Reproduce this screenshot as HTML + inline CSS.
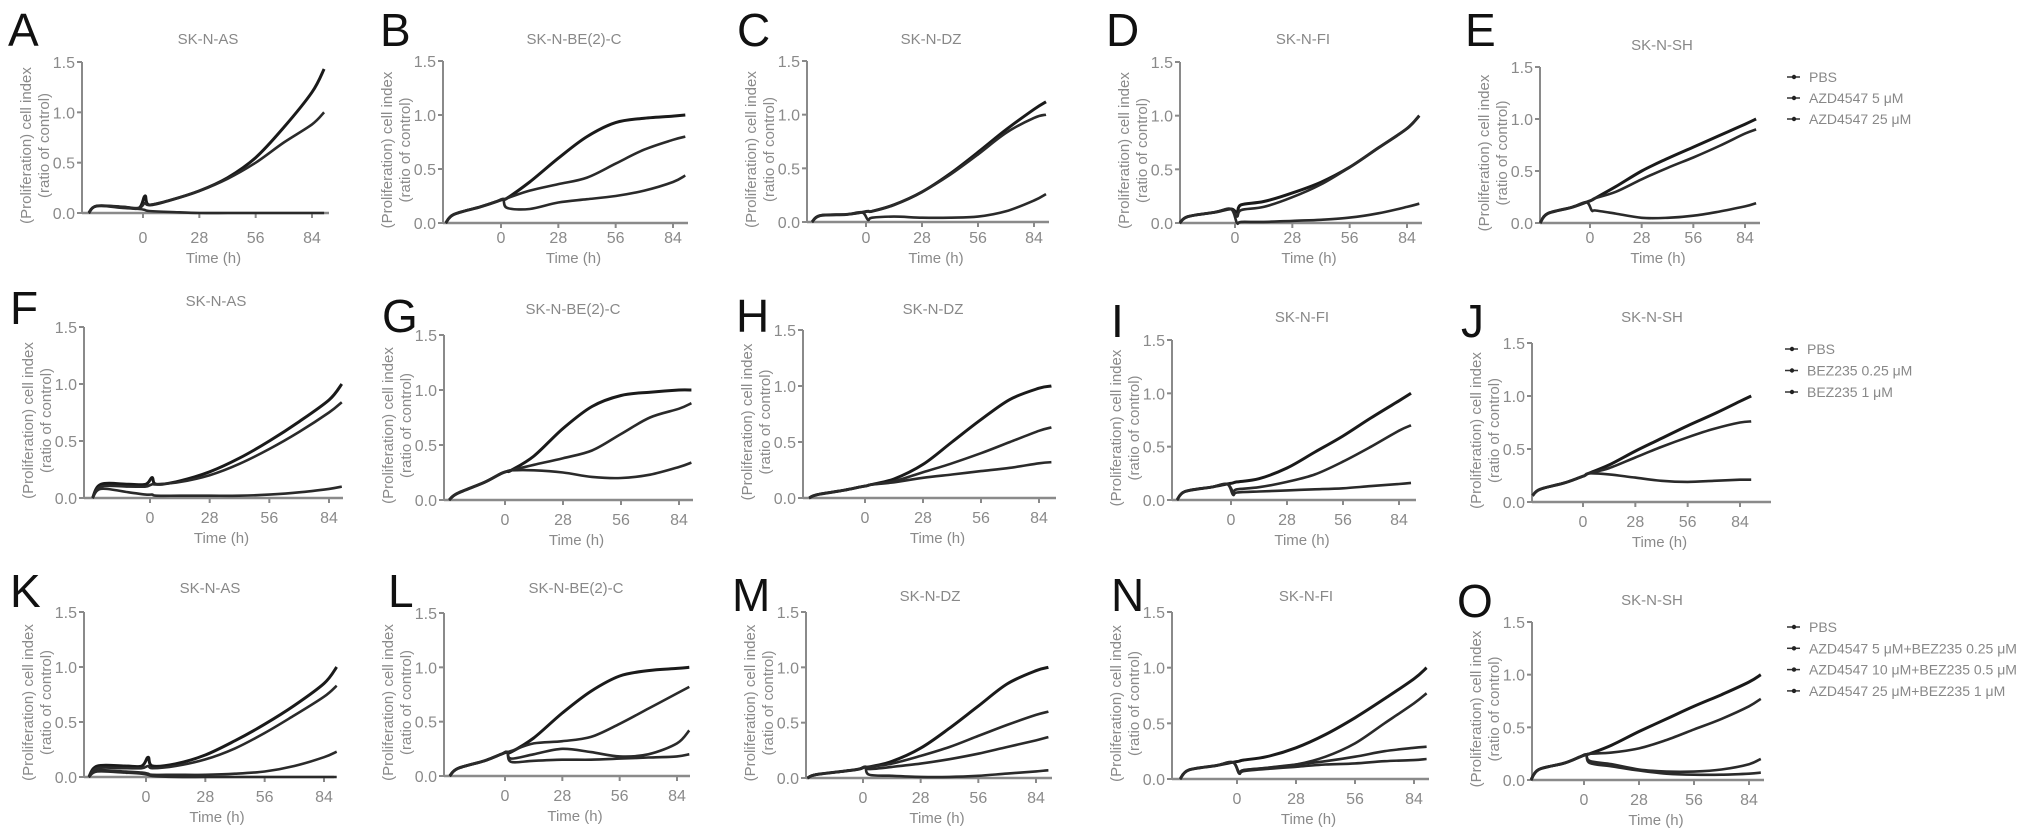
<!DOCTYPE html>
<html><head><meta charset="utf-8"><style>
html,body{margin:0;padding:0;background:#fff;}
svg{display:block;font-family:"Liberation Sans",Arial,sans-serif;}
</style></head><body>
<svg id="fig" width="2032" height="839" viewBox="0 0 2032 839" xmlns="http://www.w3.org/2000/svg"></svg>
<script>
// Shared time points (h)
const times = [-27,-23,-10,-2,1,3,14,28,42,56,70,84,90];
const xTicks = [0,28,56,84];
const yTicks = [0,0.5,1.0,1.5];
const yTickLabels = ["0.0","0.5","1.0","1.5"];
const cellLines = ["SK-N-AS","SK-N-BE(2)-C","SK-N-DZ","SK-N-FI","SK-N-SH"];
const panelLetters = ["A","B","C","D","E","F","G","H","I","J","K","L","M","N","O"];
const legendRow1 = ["PBS","AZD4547 5 μM","AZD4547 25 μM"];
const legendRow2 = ["PBS","BEZ235 0.25 μM","BEZ235 1 μM"];
const legendRow3 = ["PBS","AZD4547 5 μM+BEZ235 0.25 μM","AZD4547 10 μM+BEZ235 0.5 μM","AZD4547 25 μM+BEZ235 1 μM"];

// Series values per panel
const seriesA = [
 [0,0.07,0.06,0.05,0.17,0.08,0.13,0.22,0.35,0.55,0.85,1.2,1.43],
 [0,0.07,0.06,0.05,0.10,0.08,0.13,0.22,0.34,0.50,0.70,0.88,1.0],
 [0,0.07,0.05,0.04,0.03,0.02,0.01,0,0,0,0,0,0]];
const seriesB = [
 [0,0.08,0.15,0.2,0.22,0.23,0.38,0.6,0.8,0.93,0.97,0.99,1.0],
 [0,0.08,0.15,0.2,0.22,0.23,0.3,0.36,0.42,0.55,0.68,0.77,0.8],
 [0,0.08,0.15,0.2,0.22,0.14,0.13,0.19,0.22,0.25,0.3,0.38,0.44]];
const seriesC = [
 [0,0.06,0.07,0.09,0.1,0.1,0.16,0.28,0.45,0.65,0.86,1.05,1.12],
 [0,0.06,0.07,0.09,0.1,0.1,0.16,0.28,0.44,0.63,0.83,0.97,1.0],
 [0,0.06,0.07,0.09,0.02,0.04,0.05,0.04,0.04,0.05,0.1,0.2,0.26]];
const seriesD = [
 [0,0.06,0.1,0.13,0.1,0.17,0.2,0.28,0.38,0.52,0.7,0.88,1.0],
 [0,0.06,0.1,0.13,0.06,0.12,0.15,0.24,0.36,0.52,0.7,0.88,1.0],
 [0,0.06,0.1,0.13,0.0,0.01,0.01,0.02,0.03,0.05,0.09,0.15,0.18]];
const seriesE = [
 [0,0.09,0.15,0.2,0.22,0.24,0.35,0.5,0.62,0.73,0.84,0.95,1.0],
 [0,0.09,0.15,0.2,0.22,0.24,0.3,0.42,0.53,0.63,0.74,0.86,0.9],
 [0,0.09,0.15,0.2,0.12,0.12,0.09,0.05,0.05,0.07,0.11,0.16,0.19]];
const seriesF = [
 [0,0.12,0.12,0.12,0.18,0.12,0.15,0.23,0.35,0.5,0.67,0.86,1.0],
 [0,0.1,0.1,0.1,0.12,0.12,0.14,0.2,0.3,0.43,0.58,0.75,0.84],
 [0,0.08,0.05,0.03,0.03,0.02,0.02,0.02,0.02,0.03,0.05,0.08,0.1]];
const seriesG = [
 [0,0.06,0.16,0.24,0.26,0.27,0.4,0.65,0.85,0.95,0.98,1.0,1.0],
 [0,0.06,0.16,0.24,0.26,0.27,0.32,0.38,0.45,0.6,0.75,0.83,0.88],
 [0,0.06,0.16,0.24,0.26,0.27,0.27,0.25,0.21,0.2,0.23,0.3,0.34]];
const seriesH = [
 [0,0.03,0.07,0.1,0.11,0.12,0.17,0.3,0.5,0.7,0.88,0.98,1.0],
 [0,0.03,0.07,0.1,0.11,0.12,0.15,0.23,0.31,0.4,0.5,0.6,0.63],
 [0,0.03,0.07,0.1,0.11,0.12,0.14,0.18,0.21,0.24,0.27,0.31,0.32]];
const seriesI = [
 [0,0.08,0.12,0.15,0.16,0.17,0.2,0.3,0.45,0.6,0.77,0.93,1.0],
 [0,0.08,0.12,0.15,0.08,0.1,0.12,0.17,0.24,0.36,0.5,0.65,0.7],
 [0,0.08,0.12,0.15,0.05,0.07,0.08,0.09,0.1,0.11,0.13,0.15,0.16]];
const seriesJ = [
 [0.06,0.12,0.18,0.23,0.25,0.27,0.35,0.48,0.6,0.72,0.83,0.95,1.0],
 [0.06,0.12,0.18,0.23,0.25,0.27,0.32,0.42,0.52,0.61,0.69,0.75,0.76],
 [0.06,0.12,0.18,0.23,0.25,0.27,0.26,0.23,0.2,0.19,0.2,0.21,0.21]];
const seriesK = [
 [0,0.1,0.1,0.1,0.18,0.1,0.12,0.2,0.33,0.48,0.65,0.85,1.0],
 [0,0.08,0.08,0.08,0.1,0.08,0.1,0.16,0.26,0.4,0.56,0.73,0.83],
 [0,0.06,0.05,0.04,0.03,0.02,0.02,0.02,0.03,0.05,0.1,0.18,0.23],
 [0,0.05,0.04,0.03,0.02,0.01,0,0,0,0,0,0,0]];
const seriesL = [
 [0,0.07,0.14,0.2,0.22,0.22,0.35,0.58,0.78,0.92,0.97,0.99,1.0],
 [0,0.07,0.14,0.2,0.22,0.23,0.3,0.32,0.36,0.48,0.62,0.76,0.82],
 [0,0.07,0.14,0.2,0.22,0.16,0.2,0.25,0.22,0.18,0.2,0.3,0.42],
 [0,0.07,0.14,0.2,0.22,0.13,0.14,0.15,0.15,0.16,0.17,0.18,0.2]];
const seriesM = [
 [0,0.03,0.06,0.08,0.1,0.1,0.15,0.27,0.45,0.65,0.85,0.97,1.0],
 [0,0.03,0.06,0.08,0.1,0.1,0.13,0.2,0.28,0.38,0.48,0.57,0.6],
 [0,0.03,0.06,0.08,0.1,0.08,0.1,0.13,0.17,0.22,0.28,0.34,0.37],
 [0,0.03,0.06,0.08,0.1,0.03,0.02,0.01,0.01,0.02,0.04,0.06,0.07]];
const seriesN = [
 [0,0.08,0.12,0.15,0.16,0.17,0.2,0.28,0.4,0.55,0.72,0.9,1.0],
 [0,0.08,0.12,0.15,0.06,0.08,0.1,0.13,0.2,0.32,0.5,0.68,0.77],
 [0,0.08,0.12,0.15,0.05,0.08,0.1,0.13,0.16,0.2,0.25,0.28,0.29],
 [0,0.08,0.12,0.15,0.05,0.07,0.09,0.11,0.13,0.14,0.16,0.17,0.18]];
const seriesO = [
 [0,0.1,0.16,0.22,0.24,0.25,0.33,0.46,0.58,0.7,0.81,0.93,1.0],
 [0,0.1,0.16,0.22,0.24,0.25,0.26,0.3,0.38,0.48,0.58,0.7,0.77],
 [0,0.1,0.16,0.22,0.24,0.18,0.15,0.1,0.08,0.08,0.1,0.15,0.2],
 [0,0.1,0.16,0.22,0.24,0.16,0.13,0.09,0.06,0.05,0.05,0.06,0.07]];
const allSeries = [seriesA,seriesB,seriesC,seriesD,seriesE,seriesF,seriesG,seriesH,seriesI,seriesJ,seriesK,seriesL,seriesM,seriesN,seriesO];

// Layout (pixel geometry) per panel
const layout = [
 {ax:82,x0:143,x84:312,xe:329,yt:62,yb:213,lx:8,ly:12,tx:208,ty:44,tl:243},
 {ax:443,x0:501,x84:673,xe:688,yt:61,yb:223,lx:380,ly:12,tx:574,ty:44,tl:243},
 {ax:807,x0:866,x84:1034,xe:1049,yt:61,yb:222,lx:737,ly:12,tx:931,ty:44,tl:243},
 {ax:1180,x0:1235,x84:1407,xe:1422,yt:62,yb:223,lx:1106,ly:12,tx:1303,ty:44,tl:243},
 {ax:1540,x0:1590,x84:1745,xe:1760,yt:67,yb:223,lx:1465,ly:12,tx:1662,ty:50,tl:243},
 {ax:84,x0:150,x84:329,xe:343,yt:327,yb:498,lx:10,ly:290,tx:216,ty:306,tl:523},
 {ax:444,x0:505,x84:679,xe:693,yt:335,yb:500,lx:382,ly:298,tx:573,ty:314,tl:525},
 {ax:803,x0:865,x84:1039,xe:1056,yt:330,yb:498,lx:736,ly:298,tx:933,ty:314,tl:523},
 {ax:1172,x0:1231,x84:1399,xe:1416,yt:340,yb:500,lx:1111,ly:303,tx:1302,ty:322,tl:525},
 {ax:1532,x0:1583,x84:1740,xe:1771,yt:343,yb:502,lx:1461,ly:303,tx:1652,ty:322,tl:527},
 {ax:84,x0:146,x84:324,xe:334,yt:612,yb:777,lx:10,ly:573,tx:210,ty:593,tl:802},
 {ax:444,x0:505,x84:677,xe:690,yt:613,yb:776,lx:388,ly:573,tx:576,ty:593,tl:801},
 {ax:806,x0:863,x84:1036,xe:1052,yt:612,yb:778,lx:732,ly:577,tx:930,ty:601,tl:803},
 {ax:1172,x0:1237,x84:1414,xe:1429,yt:612,yb:779,lx:1111,ly:577,tx:1306,ty:601,tl:804},
 {ax:1532,x0:1584,x84:1749,xe:1764,yt:622,yb:780,lx:1457,ly:583,tx:1652,ty:605,tl:805}];

const NS="http://www.w3.org/2000/svg";
const svg=document.getElementById('fig');
function mk(tag,attrs,parent){const e=document.createElementNS(NS,tag);for(const k in attrs)e.setAttribute(k,attrs[k]);(parent||svg).appendChild(e);return e;}
function smooth(pts){let d="M"+pts[0][0].toFixed(1)+","+pts[0][1].toFixed(1);
 for(let i=0;i<pts.length-1;i++){const p0=pts[Math.max(0,i-1)],p1=pts[i],p2=pts[i+1],p3=pts[Math.min(pts.length-1,i+2)];
  const c1=[p1[0]+(p2[0]-p0[0])/6,p1[1]+(p2[1]-p0[1])/6],c2=[p2[0]-(p3[0]-p1[0])/6,p2[1]-(p3[1]-p1[1])/6];
  d+=" C"+c1[0].toFixed(1)+","+c1[1].toFixed(1)+" "+c2[0].toFixed(1)+","+c2[1].toFixed(1)+" "+p2[0].toFixed(1)+","+p2[1].toFixed(1);}
 return d;}

layout.forEach((L,pi)=>{
 const g=mk('g',{});
 
 
 const xs=h=>L.x0+(h)*(L.x84-L.x0)/84;
 const ys=v=>L.yb-v*(L.yb-L.yt)/1.5;
 const letter=mk('text',{x:L.lx,y:L.ly+34,'font-size':46,fill:'#111'},g);letter.textContent=panelLetters[pi];
 
 
 const title=mk('text',{x:L.tx,y:L.ty,'font-size':15,fill:'#888','text-anchor':'middle'},g);title.textContent=cellLines[pi%5];
 
 
 const ya=mk('line',{x1:L.ax,y1:L.yt,x2:L.ax,y2:L.yb,stroke:'#8a8a8a','stroke-width':2},g);
 
 
 const xa=mk('line',{x1:L.ax,y1:L.yb,x2:L.xe,y2:L.yb,stroke:'#8a8a8a','stroke-width':2.5},g);
 
 
 yTicks.forEach((v,i)=>{mk('line',{x1:L.ax-5,y1:ys(v),x2:L.ax,y2:ys(v),stroke:'#8a8a8a','stroke-width':2},g);
  const t=mk('text',{x:L.ax-7,y:ys(v)+6,'font-size':16,fill:'#8a8a8a','text-anchor':'end'},g);t.textContent=yTickLabels[i];
  
  });
 xTicks.forEach(h=>{mk('line',{x1:xs(h),y1:L.yb,x2:xs(h),y2:L.yb+5,stroke:'#8a8a8a','stroke-width':2},g);
  const t=mk('text',{x:xs(h),y:L.tl,'font-size':16,fill:'#8a8a8a','text-anchor':'middle'},g);t.textContent=String(h);
  
  });
 const xt=mk('text',{x:(L.ax+L.xe)/2+8,y:L.tl+20,'font-size':15,fill:'#8a8a8a','text-anchor':'middle'},g);xt.textContent='Time (h)';
 
 
 const my=(L.yt+L.yb)/2+8;
 const y1=mk('text',{x:0,y:0,'font-size':15,fill:'#8a8a8a','text-anchor':'middle',transform:`translate(${L.ax-51},${my}) rotate(-90)`},g);y1.textContent='(Proliferation) cell index';
 
 
 const y2=mk('text',{x:0,y:0,'font-size':15,fill:'#8a8a8a','text-anchor':'middle',transform:`translate(${L.ax-33},${my}) rotate(-90)`},g);y2.textContent='(ratio of control)';
 
 
 const ser=allSeries[pi];
 ser.forEach((vals,si)=>{
  const pts=times.map((h,i)=>[xs(h),ys(vals[i])]);
  const p=mk('path',{d:smooth(pts),fill:'none',stroke:si===0?'#1a1a1a':'#2a2a2a','stroke-width':si===0?3:2.6,'stroke-linejoin':'round'},g);
  
  
 });
});

function legend(items,x,y0,dy){
 const g=mk('g',{});
 
 
 items.forEach((s,i)=>{const y=y0+i*dy;
  mk('line',{x1:x,y1:y,x2:x+13,y2:y,stroke:'#333','stroke-width':1.5},g);
  mk('circle',{cx:x+7,cy:y,r:2.2,fill:'#222'},g);
  const t=mk('text',{x:x+22,y:y+5,'font-size':14,fill:'#888'},g);t.textContent=s;
  
  });
}
legend(legendRow1,1787,77,21);
legend(legendRow2,1785,349,21.5);
legend(legendRow3,1787,627,21.3);
</script>
</body></html>
